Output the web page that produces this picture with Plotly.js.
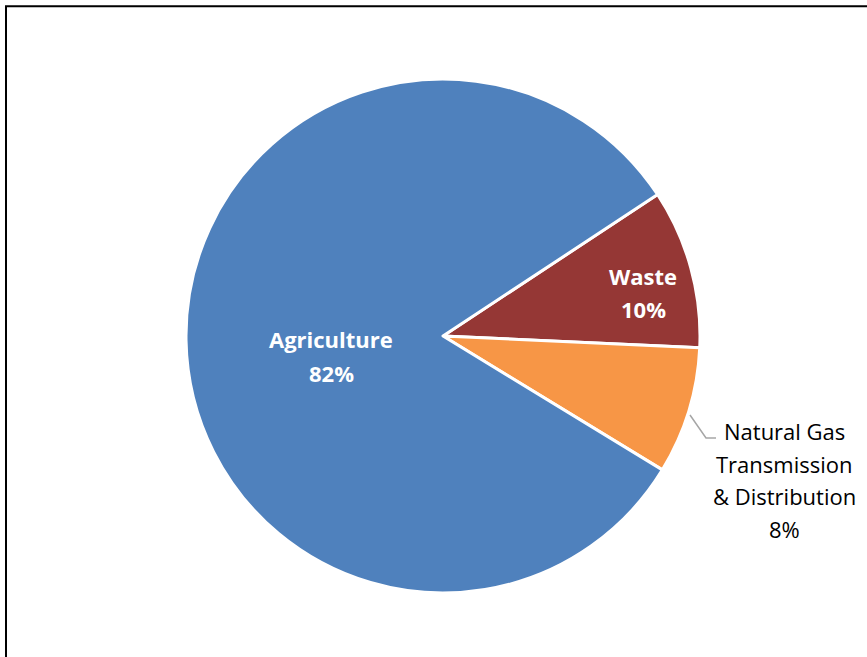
<!DOCTYPE html>
<html>
<head>
<meta charset="utf-8">
<script src="https://cdn.plot.ly/plotly-3.0.1.min.js"></script>
<style>html,body{margin:0;padding:0;background:#fff;}#chart{width:867px;height:657px;}</style>
</head>
<body>
<div id="chart"></div>
<script>
// Data
const sectors = ['Waste', 'Natural Gas Transmission & Distribution', 'Agriculture'];
const shares = [10, 8, 82];
const labelLines = [['Waste'], ['Natural Gas', 'Transmission', '& Distribution'], ['Agriculture']];
const sliceColors = ['#953735', '#F79646', '#4F81BD'];

const W = 867, H = 657;
const cx = 443, cy = 336, r = 257;
const px = x => x / W;
const py = y => 1 - y / H;

// label anchor (pixel) positions, line spacing, style per slice
const labelPos = [
  {x: 643, y: 276, dy: 33, color: '#ffffff', bold: true},
  {x: 784, y: 431, dy: 32.5, color: '#000000', bold: false},
  {x: 331, y: 339, dy: 34, color: '#ffffff', bold: true}
];

const annotations = [];
labelLines.forEach((lines, i) => {
  const all = lines.concat([shares[i] + '%']);
  const p = labelPos[i];
  all.forEach((t, k) => {
    annotations.push({
      xref: 'paper', yref: 'paper',
      x: px(p.x), y: py(p.y + k * p.dy),
      xanchor: 'center', yanchor: 'middle',
      text: p.bold ? '<b>' + t + '</b>' : t,
      showarrow: false,
      font: {family: '"Open Sans", sans-serif', size: 22, color: p.color}
    });
  });
});

const data = [{
  type: 'pie',
  labels: sectors,
  values: shares,
  sort: false,
  direction: 'clockwise',
  rotation: 56.6,
  marker: {colors: sliceColors, line: {color: '#ffffff', width: 3}},
  textinfo: 'none',
  hoverinfo: 'none',
  showlegend: false,
  domain: {x: [px(cx - r), px(cx + r)], y: [py(cy + r), py(cy - r)]}
}];

const layout = {
  width: W, height: H,
  margin: {l: 0, r: 0, t: 0, b: 0},
  paper_bgcolor: '#ffffff',
  showlegend: false,
  annotations: annotations,
  shapes: [
    {type: 'path', xref: 'paper', yref: 'paper',
     path: 'M ' + px(6) + ' ' + py(H + 10) + ' L ' + px(6) + ' ' + py(6.3) + ' L ' + px(W + 10) + ' ' + py(6.3),
     line: {color: '#000000', width: 2}},
    {type: 'path', xref: 'paper', yref: 'paper',
     path: 'M ' + px(690) + ' ' + py(415) + ' L ' + px(706) + ' ' + py(438) + ' L ' + px(716) + ' ' + py(438),
     line: {color: '#A6A6A6', width: 1.5}}
  ]
};

Plotly.newPlot('chart', data, layout, {displayModeBar: false, staticPlot: true});
</script>
</body>
</html>
